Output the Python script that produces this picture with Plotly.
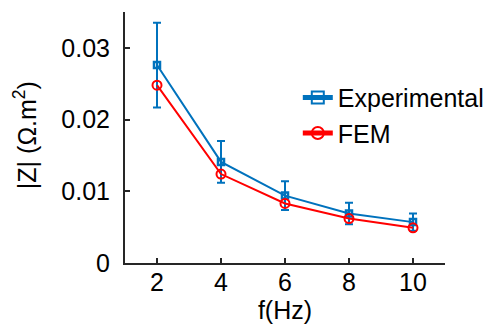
import plotly.graph_objects as go

freq = [2, 4, 6, 8, 10]
exp_z = [0.0276, 0.0141, 0.0094, 0.0069, 0.0057]
exp_err = [0.0059, 0.0029, 0.0020, 0.0015, 0.0012]
fem_z = [0.0248, 0.0124, 0.0083, 0.0062, 0.0049]

blue = "#0072BD"
red = "#FF0000"
font = "Liberation Sans, Arial, sans-serif"

fig = go.Figure()
fig.add_trace(go.Scatter(
    x=freq, y=exp_z, name="Experimental", mode="lines+markers",
    line=dict(color=blue, width=2),
    marker=dict(symbol="square-open", size=6, color=blue, line=dict(width=2.5)),
    error_y=dict(type="data", array=exp_err, visible=True, color=blue, thickness=2, width=4),
))
fig.add_trace(go.Scatter(
    x=freq, y=fem_z, name="FEM", mode="lines+markers",
    line=dict(color=red, width=2),
    marker=dict(symbol="circle-open", size=9, color=red, line=dict(width=2)),
))

fig.add_annotation(
    text="|Z| (Ω.m<sup>2</sup>)", xref="paper", yref="paper",
    x=-0.312, y=0.51, xanchor="center", yanchor="middle",
    textangle=-90, showarrow=False, font=dict(size=25, color="black"),
)

fig.update_layout(
    width=491, height=318,
    margin=dict(l=117, r=54, t=4, b=63, autoexpand=False),
    paper_bgcolor="white", plot_bgcolor="white",
    font=dict(family=font, size=25, color="black"),
    showlegend=True,
    legend=dict(x=0.54, y=0.75, xanchor="left", yanchor="top",
                bgcolor="rgba(0,0,0,0)", font=dict(size=25),
                tracegroupgap=0, itemsizing="constant"),
    xaxis=dict(range=[1, 11], tickvals=[2, 4, 6, 8, 10], ticks="inside", ticklen=5,
               tickwidth=2, tickcolor="#262626", showline=True, linecolor="#262626",
               linewidth=2, showgrid=False, zeroline=False, automargin=True,
               ticklabelstandoff=-4,
               title=dict(text="f(Hz)", font=dict(size=25), standoff=6)),
    yaxis=dict(range=[0, 0.035], tickvals=[0, 0.01, 0.02, 0.03],
               ticktext=["0", "0.01", "0.02", "0.03"], ticks="inside", ticklen=5,
               tickwidth=2, tickcolor="#262626", showline=True, linecolor="#262626",
               linewidth=2, showgrid=False, zeroline=False, automargin=True,
               ticklabelstandoff=8),
)

fig.write_html("out.html")
